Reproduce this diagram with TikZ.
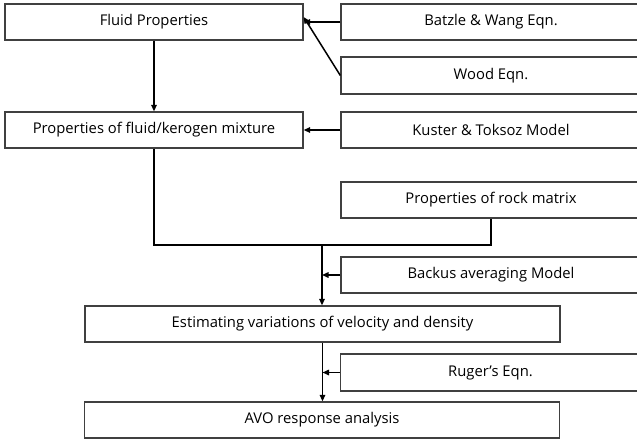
\documentclass[tikz,border=0pt]{standalone}
\usepackage{fontspec}
\setmainfont{Open Sans}
\usetikzlibrary{arrows.meta}
\begin{document}
\begin{tikzpicture}[x=1pt,y=-1pt,
  box/.style={draw=black!75,line width=1.3pt,fill=white,rectangle,inner sep=0pt,
    minimum height=36pt,font=\fontsize{14.8}{17}\selectfont},
  lbox/.style={box,minimum width=298pt},
  rbox/.style={box,minimum width=300pt},
  wbox/.style={box,minimum width=475pt},
  conn/.style={line width=1.5pt,black},
  arr/.style={conn,-{Triangle[length=6.5pt,width=5.5pt]}}]
\useasboundingbox (0,0) rectangle (637,442);
\clip (0,0) rectangle (637,442);
\fill[white] (0,0) rectangle (637,442);
\node[lbox] (fp) at (154,22) {Fluid Properties};
\node[rbox] (bw) at (491,22) {Batzle \& Wang Eqn.};
\node[rbox,minimum height=37pt] (wood) at (491,75.5) {Wood Eqn.};
\node[lbox] (fk) at (154,130) {Properties of fluid/kerogen mixture};
\node[rbox] (kt) at (491,130) {Kuster \& Toksoz Model};
\node[rbox] (rm) at (491,200) {Properties of rock matrix};
\node[rbox] (bk) at (491,275) {Backus averaging Model};
\node[wbox] (est) at (322.5,324) {Estimating variations of velocity and density};
\node[rbox,minimum height=37pt] (rg) at (490.5,372.5) {Ruger’s Eqn.};
\node[wbox] (avo) at (322,420) {AVO response analysis};
\coordinate (j) at (322,245);
\coordinate (fpw) at ([yshift=5pt]fp.east);
\draw[arr] (fp.south) -- (fk.north);
\draw[arr] (bw.west) -- (fp.east);
\draw[arr] (wood.west) -- (fpw);
\draw[arr] (kt.west) -- (fk.east);
\draw[conn] (fk.south) |- (j) -| (rm.south);
\draw[arr] (j) -- (j |- est.north);
\draw[arr] (bk.west) -- (j |- bk.west);
\draw[arr] (est.south) -- (est.south |- avo.north);
\draw[arr] (rg.west) -- (est.south |- rg.west);
\end{tikzpicture}
\end{document}
